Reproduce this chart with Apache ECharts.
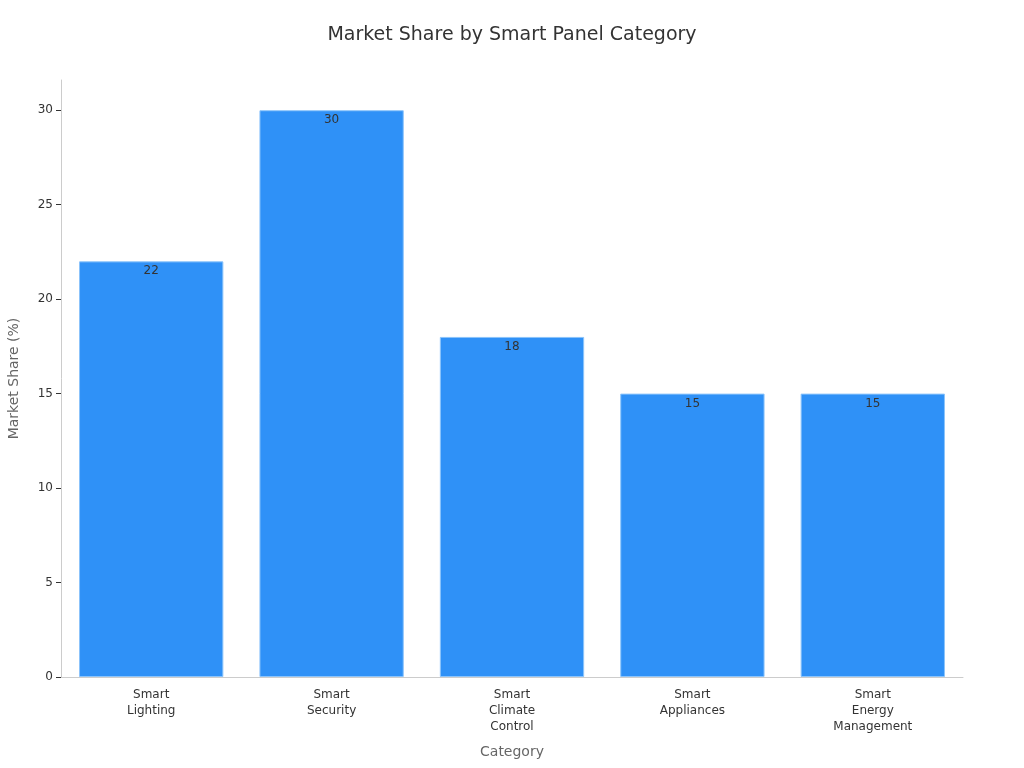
<!DOCTYPE html>
<html><head><meta charset="utf-8">
<script src="https://cdn.jsdelivr.net/npm/echarts@6/dist/echarts.min.js"></script>
<style>html,body{margin:0;padding:0;background:#fff}#c{width:1024px;height:768px}</style>
</head><body><div id="c"></div>
<script>
const categories = ["Smart\nLighting", "Smart\nSecurity", "Smart\nClimate\nControl", "Smart\nAppliances", "Smart\nEnergy\nManagement"];
const shares = [22, 30, 18, 15, 15];
const chart = echarts.init(document.getElementById('c'));
chart.setOption({
  animation: false,
  textStyle: { fontFamily: 'DejaVu Sans' },
  title: { text: 'Market Share by Smart Panel Category', left: 'center', top: 21,
    textStyle: { fontSize: 19, fontWeight: 'normal', color: '#333', fontFamily: 'DejaVu Sans' } },
  grid: { left: 61, right: 61, top: 80, bottom: 91, containLabel: false, outerBoundsMode: 'none' },
  xAxis: {
    type: 'category', data: categories,
    name: 'Category', nameLocation: 'middle', nameGap: 68,
    nameTextStyle: { fontSize: 14, color: '#666' },
    axisLine: { lineStyle: { color: '#ccc' } },
    axisTick: { alignWithLabel: true, length: 5, lineStyle: { color: '#333' } },
    axisLabel: { fontSize: 12, color: '#333', lineHeight: 16, margin: 10 }
  },
  yAxis: {
    type: 'value', min: 0, max: 31.6, interval: 5,
    name: 'Market Share (%)', nameLocation: 'middle', nameGap: 40,
    nameTextStyle: { fontSize: 14, color: '#666' },
    axisLine: { show: true, lineStyle: { color: '#ccc' } },
    axisTick: { show: true, length: 5, lineStyle: { color: '#333' } },
    axisLabel: { fontSize: 12, color: '#333', showMaxLabel: false,
      formatter: v => (v % 5 === 0 ? String(v) : '') },
    splitLine: { show: false }
  },
  series: [{
    type: 'bar', data: shares, barCategoryGap: '20%',
    itemStyle: { color: '#2F91F7', borderColor: '#8CC4FB', borderWidth: 1 },
    label: { show: true, position: 'insideTop', distance: 4, fontSize: 12, color: '#333' }
  }]
});
</script></body></html>
